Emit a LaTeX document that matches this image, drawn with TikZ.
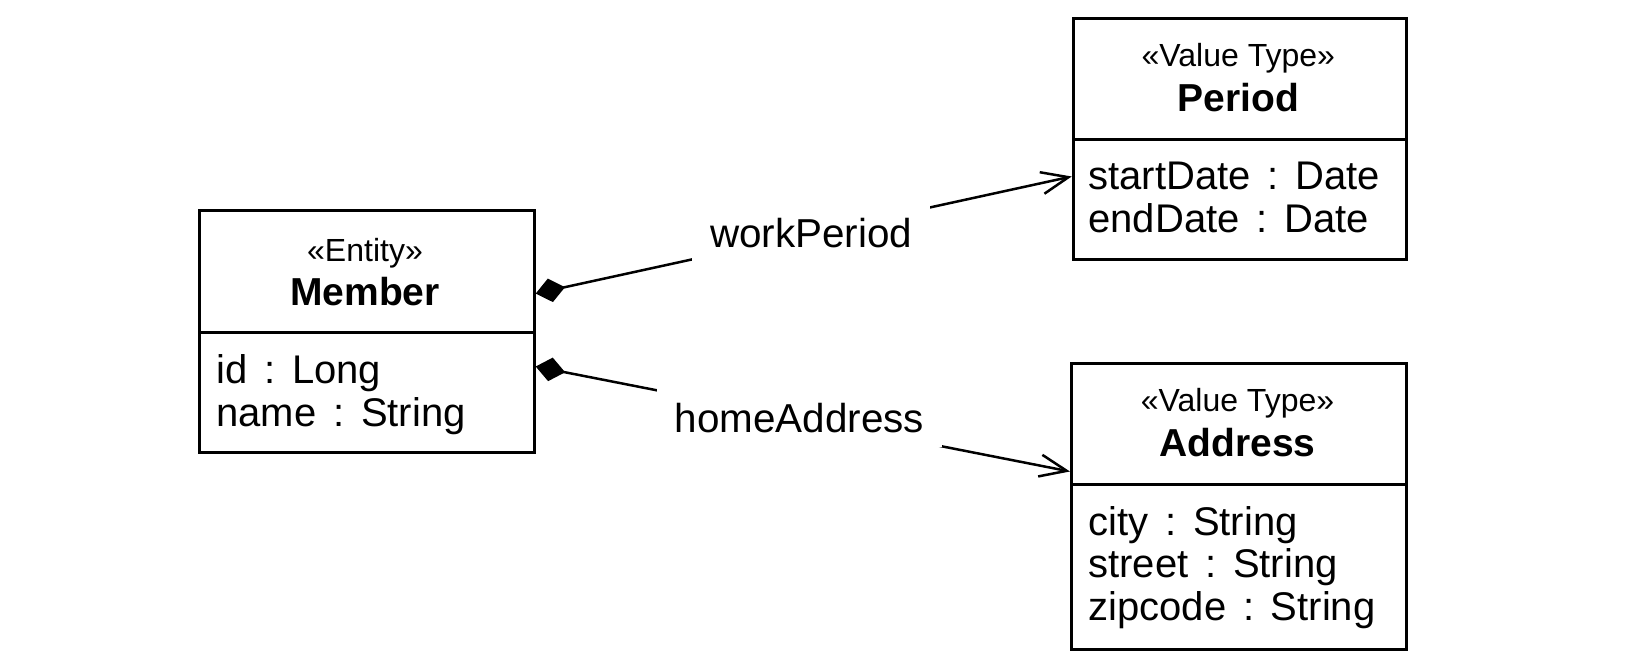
\documentclass[tikz,border=0pt]{standalone}
\usepackage{fontspec}
\setmainfont{Liberation Sans}
\usetikzlibrary{arrows.meta}
\frenchspacing
\newcommand\attrfontsetup{\fontsize{20pt}{24pt}\selectfont\frenchspacing\spaceskip 0.42em\relax}
\begin{document}
\begin{tikzpicture}[x=0.5pt,y=-0.5pt,
  compartment/.style={draw,line width=1.5pt,inner sep=0pt,anchor=north west,minimum width=#1},
  stereo/.style={anchor=base,inner sep=0pt,font=\fontsize{16pt}{19pt}\selectfont},
  classname/.style={anchor=base,inner sep=0pt,font=\fontsize{19.5pt}{23pt}\selectfont\bfseries},
  attr/.style={anchor=base west,inner sep=0pt,font=\attrfontsetup},
  lbl/.style={fill=white,inner xsep=9pt,inner ysep=0pt,minimum height=29pt,font=\fontsize{20.2pt}{24pt}\selectfont},
  comp/.style={line width=1.25pt,{Diamond[length=15pt,width=12pt]}-{Straight Barb[length=13.5pt,width=11pt]}}
]
\useasboundingbox (0,0) rectangle (1644,668);
% Member
\node[compartment=167.6pt,minimum height=60.85pt] (memberH) at (197.5,209) {};
\node[compartment=167.6pt,minimum height=60pt] (memberB) at (197.5,330.7) {};
\node[stereo] (memberS) at (365,261.7) {«Entity»};
\node[classname] (memberT) at (365,306) {Member};
\node[attr] (memberA1) at (216,383) {id : Long};
\node[attr] (memberA2) at (216,426.5) {name : String};
% Period
\node[compartment=166.65pt,minimum height=60.65pt] (periodH) at (1071.7,16.7) {};
\node[compartment=166.65pt,minimum height=60pt] (periodB) at (1071.7,138) {};
\node[stereo] (periodS) at (1238.3,66.7) {«Value Type»};
\node[classname] (periodT) at (1238.3,111.7) {Period};
\node[attr] (periodA1) at (1088,190) {startDate : Date};
\node[attr] (periodA2) at (1088,232.7) {endDate : Date};
% Address
\node[compartment=167.5pt,minimum height=60.5pt] (addressH) at (1070,362) {};
\node[compartment=167.5pt,minimum height=82.5pt] (addressB) at (1070,483) {};
\node[stereo] (addressS) at (1237.5,411.7) {«Value Type»};
\node[classname] (addressT) at (1237.5,456.7) {Address};
\node[attr] (addressA1) at (1088,535) {city : String};
\node[attr] (addressA2) at (1088,577.5) {street : String};
\node[attr] (addressA3) at (1088,620) {zipcode : String};
% connectors
\draw[comp] ([yshift=-11.1pt]memberH.east) -- node[lbl,pos=0.514] (wp) {workPeriod} ([yshift=11.5pt]periodB.west);
\draw[comp] ([yshift=12.85pt]memberB.east) -- node[lbl,pos=0.4935] (ha) {homeAddress} ([yshift=-23.75pt]addressH.west);
\end{tikzpicture}
\end{document}
